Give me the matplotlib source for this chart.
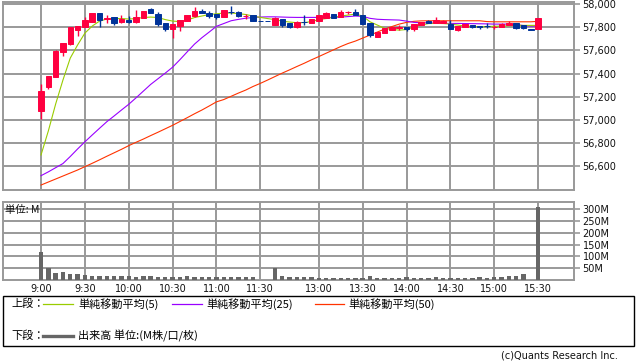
import matplotlib
matplotlib.use("Agg")
import matplotlib.pyplot as plt
from matplotlib.patches import Rectangle
from matplotlib.lines import Line2D
import numpy as np

# ---------------- data ----------------
morning = [f"{h}:{m:02d}" for h in range(9, 12) for m in range(0, 60, 5)][:31]
placeholder = ["11:35"]
afternoon = [f"{h}:{m:02d}" for h in range(12, 16) for m in range(0, 60, 5)][6:43]
times = morning + placeholder + afternoon

opens = [57078, 57281, 57372, 57589, 57655, 57776, 57800, 57848, 57921, 57869,
         57892, 57846, 57863, 57846, 57883, 57956, 57915, 57834, 57782, 57811,
         57854, 57898, 57941, 57926, 57915, 57892, 57932, 57932, 57896, 57906,
         57855, 57853, 57820, 57869, 57834, 57800, 57850, 57834, 57857, 57878,
         57915, 57892, 57929, 57932, 57906, 57834, 57718, 57753, 57776, 57798,
         57805, 57782, 57820, 57857, 57840, 57840, 57828, 57776, 57805, 57817,
         57811, 57812, 57804, 57805, 57817, 57834, 57817, 57783, 57782]
highs = [57309, 57378, 57603, 57667, 57800, 57811, 57892, 57921, 57921, 57904,
         57892, 57906, 57898, 57949, 57941, 57967, 57932, 57834, 57826, 57863,
         57906, 57978, 57956, 57943, 57915, 57949, 57984, 57945, 57915, 57906,
         57855, 57853, 57892, 57869, 57834, 57857, 57906, 57869, 57904, 57935,
         57915, 57949, 57941, 57956, 57906, 57834, 57762, 57791, 57805, 57820,
         57805, 57828, 57848, 57863, 57886, 57863, 57863, 57811, 57828, 57817,
         57811, 57834, 57817, 57840, 57852, 57834, 57817, 57783, 57878]
lows = [57004, 57266, 57372, 57551, 57647, 57725, 57800, 57848, 57805, 57840,
        57822, 57840, 57834, 57840, 57883, 57921, 57814, 57768, 57710, 57770,
        57854, 57892, 57926, 57878, 57869, 57892, 57915, 57892, 57869, 57857,
        57853, 57851, 57820, 57805, 57795, 57794, 57820, 57834, 57857, 57878,
        57878, 57892, 57915, 57906, 57828, 57718, 57718, 57753, 57776, 57776,
        57770, 57770, 57820, 57834, 57840, 57834, 57782, 57770, 57805, 57794,
        57782, 57794, 57788, 57805, 57817, 57782, 57782, 57781, 57782]
closes = [57251, 57378, 57597, 57667, 57800, 57811, 57863, 57921, 57863, 57883,
          57840, 57869, 57846, 57892, 57941, 57921, 57828, 57782, 57826, 57863,
          57906, 57941, 57926, 57898, 57892, 57949, 57930, 57902, 57898, 57857,
          57853, 57851, 57878, 57820, 57800, 57846, 57847, 57869, 57904, 57921,
          57878, 57932, 57931, 57906, 57828, 57733, 57762, 57791, 57805, 57800,
          57782, 57828, 57848, 57840, 57863, 57857, 57782, 57811, 57828, 57805,
          57805, 57810, 57806, 57828, 57840, 57794, 57794, 57781, 57878]

ma5 = [56695, 56903, 57136, 57344, 57534, 57647, 57750, 57811, 57854, 57872,
       57876, 57876, 57872, 57876, 57885, 57889, 57885, 57867, 57854, 57850,
       57863, 57885, 57898, 57911, 57917, 57924, 57924, 57919, 57911, 57898,
       57886, 57876, 57867, 57854, 57846, 57840, 57841, 57850, 57867, 57876,
       57886, 57898, 57906, 57915, 57898, 57848, 57820, 57791, 57782, 57776,
       57781, 57802, 57820, 57833, 57834, 57833, 57828, 57820, 57811, 57808,
       57805, 57807, 57809, 57811, 57814, 57817, 57817, 57817, 57817]
ma25 = [56516, 56549, 56585, 56621, 56682, 56747, 56809, 56868, 56926, 56983,
        57033, 57084, 57134, 57190, 57248, 57306, 57355, 57404, 57455, 57520,
        57588, 57655, 57710, 57759, 57809, 57833, 57857, 57869, 57879, 57885,
        57889, 57891, 57891, 57889, 57887, 57886, 57886, 57886, 57886, 57886,
        57886, 57889, 57893, 57898, 57895, 57878, 57870, 57867, 57865, 57863,
        57854, 57843, 57840, 57839, 57837, 57835, 57834, 57834, 57833, 57832,
        57831, 57830, 57828, 57828, 57828, 57824, 57815, 57811, 57811]
ma50 = [56435, 56461, 56487, 56513, 56539, 56565, 56594, 56623, 56653, 56684,
        56714, 56744, 56776, 56805, 56833, 56863, 56892, 56922, 56952, 56985,
        57018, 57052, 57084, 57119, 57155, 57175, 57203, 57231, 57257, 57288,
        57315, 57344, 57374, 57404, 57432, 57461, 57489, 57519, 57547, 57576,
        57605, 57634, 57660, 57681, 57707, 57733, 57759, 57785, 57807, 57828,
        57843, 57852, 57856, 57857, 57857, 57857, 57857, 57857, 57857, 57857,
        57857, 57850, 57848, 57848, 57848, 57848, 57848, 57848, 57852]

volume_m = [120, 52, 31, 35, 25, 25, 21, 18, 18, 18,
            18, 18, 16, 14, 16, 18, 14, 11, 14, 11,
            18, 14, 14, 14, 11, 11, 11, 11, 11, 11,
            1, 0, 52, 18, 14, 14, 14, 11, 10, 10,
            10, 10, 10, 10, 10, 18, 10, 10, 10, 10,
            14, 10, 10, 10, 14, 10, 10, 10, 10, 10,
            14, 10, 14, 14, 18, 18, 25, 1, 308]

tick_times = ["9:00", "9:30", "10:00", "10:30", "11:00", "11:30",
              "13:00", "13:30", "14:00", "14:30", "15:00", "15:30"]
price_ticks = [56600, 56800, 57000, 57200, 57400, 57600, 57800, 58000]
vol_ticks = [50, 100, 150, 200, 250, 300]

# ---------------- style ----------------
W, H = 638, 362
JP = ["Noto Sans CJK JP", "DejaVu Sans"]
plt.rcParams["font.family"] = ["DejaVu Sans", "Noto Sans CJK JP"]
GRID = "#999999"
UP = "#ff0040"
DOWN = "#003399"

def fx(px):
    return px / W

def fy(py):
    return 1 - py / H

fig = plt.figure(figsize=(W / 100, H / 100), dpi=100)

L, R = 3.3, 574.3
ax = fig.add_axes([fx(L), fy(190), fx(R) - fx(L), fy(1.7) - fy(190)])
axv = fig.add_axes([fx(L), fy(280), fx(R) - fx(L), fy(201.7) - fy(280)])

x = np.arange(len(times))
tick_pos = [times.index(t) for t in tick_times]
xlim = (-5.16, 72.95)

for a in (ax, axv):
    a.set_xlim(*xlim)
    for s in a.spines.values():
        s.set_color(GRID)
        s.set_linewidth(1.4)
    a.set_xticks(tick_pos)
    a.grid(True, color=GRID, linewidth=1.4)
    a.set_axisbelow(True)
    a.yaxis.tick_right()
    a.tick_params(axis="y", length=4, width=1.2, color=GRID, labelsize=7, pad=2,
                  labelcolor="#111111")
    a.tick_params(axis="x", length=0, labelsize=7, labelcolor="#111111", pad=3)

ax.set_xticklabels([])
axv.set_xticklabels(tick_times)

# price axis
ax.set_ylim(56392, 58022)
ax.set_yticks(price_ticks)
ax.set_yticklabels([f"{v:,}" for v in price_ticks])

# moving averages
ax.plot(x, ma50, color="#ff3300", lw=0.8, zorder=2)
ax.plot(x, ma25, color="#9900ff", lw=0.8, zorder=2)
ax.plot(x, ma5, color="#99cc00", lw=0.8, zorder=2)

# candles
o = np.array(opens); c = np.array(closes); hi = np.array(highs); lo = np.array(lows)
cols = [UP if cc >= oo else DOWN for oo, cc in zip(o, c)]
ax.vlines(x, lo, hi, colors=cols, lw=1.0, zorder=3)
bottoms = np.minimum(o, c)
heights = np.abs(c - o)
ax.bar(x, heights, bottom=bottoms, width=0.75, color=cols, edgecolor=cols,
       linewidth=0.7, zorder=4)

# volume
axv.set_ylim(0, 331)
axv.set_yticks(vol_ticks)
axv.set_yticklabels([f"{v}M" for v in vol_ticks])
axv.bar(x, volume_m, width=0.6, color="#666666", zorder=3)
axv.text(0.003, 0.9, "単位: M", transform=axv.transAxes, fontsize=7.5,
         family=JP, va="center", ha="left", color="#111111")

# legend box
fig.patches.append(Rectangle((fx(3.3), fy(346)), fx(634) - fx(3.3), fy(296) - fy(346),
                             transform=fig.transFigure, fill=False,
                             edgecolor="black", linewidth=1.0))
ly1, ly2 = 304, 336
fig.text(fx(11.7), fy(ly1), "上段：", fontsize=8, family=JP, va="center", ha="left")
fig.text(fx(11.7), fy(ly2), "下段：", fontsize=8, family=JP, va="center", ha="left")
items = [(43.3, 73.3, "#99cc00", "単純移動平均(5)"),
         (171.7, 201.7, "#9900ff", "単純移動平均(25)"),
         (315.3, 343.8, "#ff3300", "単純移動平均(50)")]
for x0, x1, col, lab in items:
    fig.lines.append(Line2D([fx(x0), fx(x1)], [fy(ly1), fy(ly1)],
                            transform=fig.transFigure, color=col, lw=0.9))
    fig.text(fx(x1 + 5), fy(ly1), lab, fontsize=8, family=JP, va="center", ha="left")
fig.lines.append(Line2D([fx(43.3), fx(73.3)], [fy(ly2), fy(ly2)],
                        transform=fig.transFigure, color="#666666", lw=2.4))
fig.text(fx(78), fy(ly2), "出来高 単位:(M株/口/枚)", fontsize=8, family=JP,
         va="center", ha="left")

fig.text(fx(617.6), fy(355.5), "(c)Quants Research Inc.", fontsize=7, va="center",
         ha="right", color="#111111")

fig.savefig("out.png", dpi=100)
